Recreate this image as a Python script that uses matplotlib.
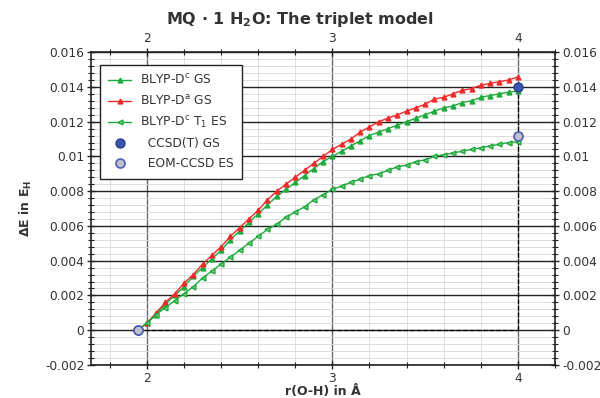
import numpy as np
import matplotlib
matplotlib.use("Agg")
import matplotlib.pyplot as plt
from matplotlib.ticker import MultipleLocator, FuncFormatter

plt.rcParams['mathtext.default'] = 'regular'
plt.rcParams['font.family'] = ['DejaVu Sans']

# r(O-H) in Angstrom, Schrittweite 0.05
r = [1.95, 2.00, 2.05, 2.10, 2.15, 2.20, 2.25, 2.30, 2.35, 2.40,
     2.45, 2.50, 2.55, 2.60, 2.65, 2.70, 2.75, 2.80, 2.85, 2.90,
     2.95, 3.00, 3.05, 3.10, 3.15, 3.20, 3.25, 3.30, 3.35, 3.40,
     3.45, 3.50, 3.55, 3.60, 3.65, 3.70, 3.75, 3.80, 3.85, 3.90,
     3.95, 4.00]

# BLYP-Dc GS
dc_gs = [0.0000, 0.0004, 0.0009, 0.0015, 0.0020, 0.0025, 0.0031, 0.0036, 0.0041, 0.0046,
         0.0052, 0.0057, 0.0062, 0.0067, 0.0072, 0.0077, 0.0081, 0.0085, 0.0089, 0.0093,
         0.0097, 0.0100, 0.0103, 0.0106, 0.0109, 0.0112, 0.0114, 0.0116, 0.0118, 0.0120,
         0.0122, 0.0124, 0.0126, 0.0128, 0.0129, 0.0131, 0.0132, 0.0134, 0.0135, 0.0136,
         0.0137, 0.01375]

# BLYP-Da GS
da_gs = [0.0000, 0.0004, 0.0010, 0.0016, 0.0021, 0.0027, 0.0032, 0.0038, 0.0043, 0.0048,
         0.0054, 0.0059, 0.0064, 0.0069, 0.0075, 0.0080, 0.0084, 0.0088, 0.0092, 0.0096,
         0.0100, 0.0104, 0.0107, 0.0110, 0.0114, 0.0117, 0.0120, 0.0122, 0.0124, 0.0126,
         0.0128, 0.0130, 0.0133, 0.0134, 0.0136, 0.0138, 0.0139, 0.0141, 0.0142, 0.0143,
         0.0144, 0.01457]

# BLYP-Dc T1 ES
dc_t1 = [0.0000, 0.0004, 0.0009, 0.0013, 0.0017, 0.0021, 0.0025, 0.0030, 0.0034, 0.0038,
         0.0042, 0.0046, 0.0050, 0.0054, 0.0058, 0.0061, 0.0065, 0.0068, 0.0071, 0.0075,
         0.0078, 0.0081, 0.0083, 0.0085, 0.0087, 0.0089, 0.0090, 0.0092, 0.0094, 0.0095,
         0.0097, 0.0098, 0.0100, 0.0101, 0.0102, 0.0103, 0.0104, 0.0105, 0.0106, 0.0107,
         0.0108, 0.01084]

# Referenzpunkte
ccsd_r = [1.95, 4.00]
ccsd_gs = [0.0, 0.0140]
eom_r = [1.95, 4.00]
eom_es = [0.0, 0.0112]

green = '#1faa3c'
red = '#ee2a2a'

fig = plt.figure(figsize=(6.0, 3.98), dpi=100)
ax = fig.add_axes([0.152, 0.083, 0.773, 0.786])

ax.set_xlim(1.7, 4.2)
ax.set_ylim(-0.002, 0.016)
ax.xaxis.set_major_locator(MultipleLocator(1))
ax.xaxis.set_minor_locator(MultipleLocator(0.2))
ax.yaxis.set_major_locator(MultipleLocator(0.002))
ax.yaxis.set_minor_locator(MultipleLocator(0.0004))

fmt = FuncFormatter(lambda v, p: '%g' % round(v, 6))
ax.yaxis.set_major_formatter(fmt)

# Gitter
ax.grid(which='minor', color='#d8d8d8', lw=0.6)
ax.grid(which='major', axis='y', color='#222222', lw=1.0)
ax.grid(which='major', axis='x', color='#666666', lw=1.0)
ax.set_axisbelow(True)

# gestrichelte Hilfslinien
ax.plot([ccsd_r[0], ccsd_r[1]], [0, 0], color='black', ls='--', lw=0.9, zorder=2)
ax.plot([ccsd_r[1], ccsd_r[1]], [0, ccsd_gs[1]], color='black', ls='--', lw=0.9, zorder=2)

ax.plot(r, dc_gs, color=green, marker='^', ms=3.5, lw=1.0, label=r'BLYP-D$^{c}$ GS', zorder=3)
ax.plot(r, da_gs, color=red, marker='^', ms=3.5, lw=1.0, label=r'BLYP-D$^{a}$ GS', zorder=3)
ax.plot(r, dc_t1, color=green, marker='<', ms=3.5, lw=1.0, mfc='#7fd08f', label=r'BLYP-D$^{c}$ T$_1$ ES', zorder=3)
ax.plot(ccsd_r, ccsd_gs, ls='none', marker='o', ms=6.5, mfc='#3a55b0', mec='#2a3f90',
        label='  CCSD(T) GS', zorder=4)
ax.plot(eom_r, eom_es, ls='none', marker='o', ms=6.5, mfc='#c0c0cc', mec='#4a5fb5', mew=1.2,
        label='  EOM-CCSD ES', zorder=4)

for s in ax.spines.values():
    s.set_color('#222222')
    s.set_linewidth(1.2)

ax.tick_params(which='both', direction='inout', top=True, right=True,
               labeltop=True, labelright=True, colors='#222222', labelcolor='#333333',
               labelsize=8.8)
ax.tick_params(which='major', length=6, width=1.0, pad=2)
ax.tick_params(which='minor', length=4, width=0.8)

ax.set_xlabel('r(O-H) in Å', fontweight='bold', fontsize=9, color='#333333', labelpad=0)
ax.set_ylabel(r'ΔE in E$_H$', fontweight='bold', fontsize=9, color='#333333', labelpad=8)
fig.suptitle(r'MQ · 1 H$_2$O: The triplet model', fontweight='bold', fontsize=11.5,
             color='#333333', y=0.975)

leg = ax.legend(loc='upper left', bbox_to_anchor=(0.005, 0.98), fancybox=False,
                edgecolor='#222222', framealpha=1, fontsize=8.8, handlelength=1.9,
                handletextpad=0.7, labelspacing=0.55, borderpad=0.7)
leg.get_frame().set_linewidth(1.0)
for t in leg.get_texts():
    t.set_color('#333333')

fig.savefig('out.png', dpi=100)
